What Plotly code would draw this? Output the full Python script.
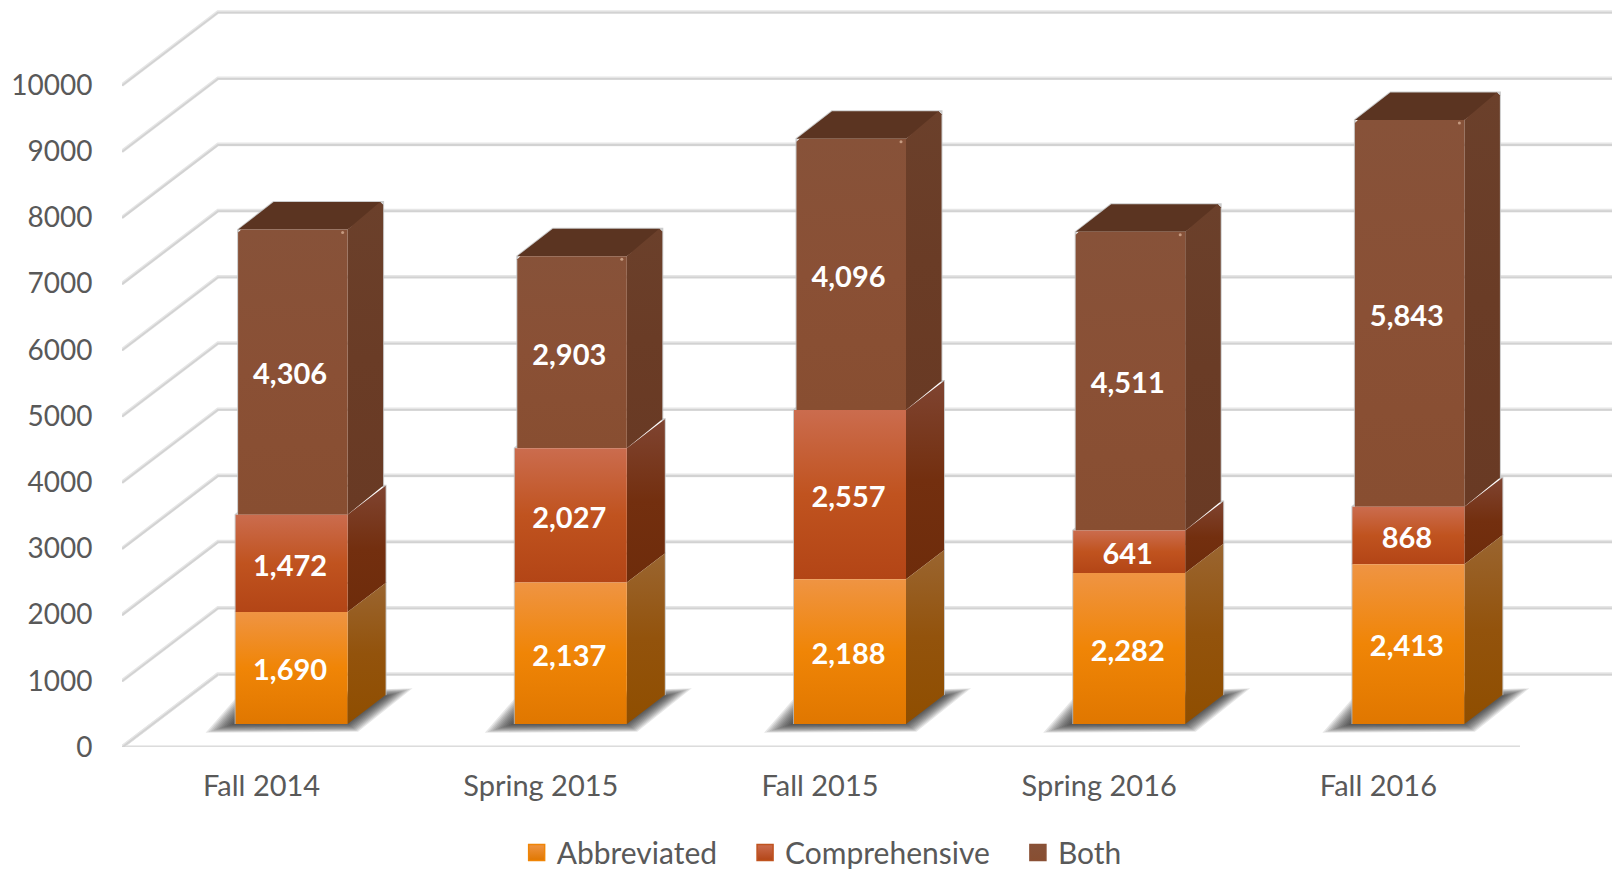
import plotly.graph_objects as go

# ## data
semesters = ["Fall 2014", "Spring 2015", "Fall 2015", "Spring 2016", "Fall 2016"]
abbreviated = [1690, 2137, 2188, 2282, 2413]
comprehensive = [1472, 2027, 2557, 641, 868]
both = [4306, 2903, 4096, 4511, 5843]
y_ticks = [0, 1000, 2000, 3000, 4000, 5000, 6000, 7000, 8000, 9000, 10000]

# ## scale of the axes (pixels per axis unit)
W, H = 1612, 870
LEFT, BOTTOM = 122, 123
X_SCALE = 279.2
Y_SCALE = 0.0662


def dx(px):
    return px / X_SCALE


def dy(px):
    return px / Y_SCALE


# ## the fake 3d look, all in pixels
WALL_X, WALL_Y = dx(96), dy(73)
BAR_SHIFT_X, BAR_LIFT = dx(30), dy(23)
BAR_W = dx(112)
SIDE_X, SIDE_Y = dx(38), dy(29)
BOTH_INSET = dx(2.5)
BOTH_SIDE_Y = dy(27.5)
CUT_X, CUT_Y = dx(3), dy(3)

GREY = "#595959"
FONT = "Lato"

# bottom of the face first, then top
styles = {
    "Abbreviated": dict(front=["#E07700", "#F08506", "#EF9443"], side=["#8F4E00", "#93530C", "#9A6530"]),
    "Comprehensive": dict(front=["#B34516", "#C0531F", "#CB6C4E"], side=["#6E2C0B", "#732F0F", "#7F4431"]),
    "Both": dict(front=["#884E31", "#8A5035", "#875239"], side=["#693A24", "#6A3C26", "#6B402B"]),
}


def scale3(colors):
    return [[0, colors[0]], [0.5, colors[1]], [1, colors[2]]]


fig = go.Figure()


def line(xs, ys, color, width):
    fig.add_trace(go.Scatter(x=xs, y=ys, mode="lines", line=dict(color=color, width=width),
                             showlegend=False, hoverinfo="skip", cliponaxis=False))


def face(xs, ys, colors=None, solid=None, opacity=1):
    kw = dict(fillcolor=solid) if solid else dict(fillgradient=dict(type="vertical", colorscale=scale3(colors)))
    fig.add_trace(go.Scatter(x=xs + xs[:1], y=ys + ys[:1], mode="lines", fill="toself", line=dict(width=0),
                             opacity=opacity, showlegend=False, hoverinfo="skip", **kw))


# ## walls and gridlines
x_right = (W - LEFT) / X_SCALE
floor_end = dx(1398)
for v in y_ticks:
    gx = [0, WALL_X, x_right]
    gy = [v, v + WALL_Y, v + WALL_Y]
    line(gx, gy, "#E6E6E6", 3.6)
    line(gx, [g - dy(0.6) for g in gy], "#D2D2D2", 1.8)
line([WALL_X, 0, floor_end], [WALL_Y, 0, 0], "#E6E6E6", 3.6)
line([WALL_X, 0, floor_end], [WALL_Y - dy(0.5), -dy(0.5), -dy(0.5)], "#D2D2D2", 1.8)

# ## shadows on the floor, stacked thin layers for the blur
shadow_px = [(-4, -1), (14, 22), (151, 28), (112, 0)]
spread = [26, 23.4, 20.8, 18.2, 15.6, 13, 10.4, 7.8, 5.2, 2.6, 0]
for i in range(len(semesters)):
    x0 = i + 0.5 + BAR_SHIFT_X - BAR_W / 2
    for e in spread:
        pts = []
        for (px, py), sx, sy in zip(shadow_px, [-1, -0.4, 1, 0.4], [-1, 1, 1, -1]):
            pts.append((px + sx * e, py + sy * e * 0.3))
        face([x0 + dx(p[0]) for p in pts], [BAR_LIFT + dy(p[1]) for p in pts], solid="#111111", opacity=0.1)

# ## bars, drawn top segment first so lower side faces sit on top
series = [("Both", both, BOTH_INSET), ("Comprehensive", comprehensive, 0), ("Abbreviated", abbreviated, 0)]
label_x, label_y, label_text = [], [], []
for i in range(len(semesters)):
    left = i + 0.5 + BAR_SHIFT_X - BAR_W / 2
    right = left + BAR_W
    bases = [abbreviated[i] + comprehensive[i], abbreviated[i], 0]

    # faint outline round the blocks goes under every face of the bar, open at the floor
    for (name, vals, inset), base in zip(series, bases):
        y0 = BAR_LIFT + base
        y1 = y0 + vals[i]
        lf = left + inset
        sx = SIDE_X - inset
        sy = BOTH_SIDE_Y if name == "Both" else SIDE_Y
        line([lf, lf, lf + sx, right + sx, right + sx],
             [y0, y1, y1 + sy, y1 + sy, y0 + sy], "rgba(190,190,190,0.8)", 2)

    for (name, vals, inset), base in zip(series, bases):
        y0 = BAR_LIFT + base
        y1 = y0 + vals[i]
        lf = left + inset
        sx = SIDE_X - inset
        sy = BOTH_SIDE_Y if name == "Both" else SIDE_Y
        if name == "Both":
            face([lf, lf + sx - CUT_X, lf + sx, right + sx - CUT_X, right + sx, right],
                 [y1, y1 + sy - CUT_Y, y1 + sy, y1 + sy, y1 + sy - CUT_Y, y1], solid="#5B3421")
            face([right, right + sx, right + sx, right + sx - CUT_X, right],
                 [y0, y0 + SIDE_Y, y1 + sy - CUT_Y, y1 + sy, y1], colors=styles[name]["side"])
            face([lf, right, right, lf + CUT_X, lf],
                 [y0, y0, y1, y1, y1 - CUT_Y], colors=styles[name]["front"])
            fig.add_trace(go.Scatter(x=[right - dx(5)], y=[y1 - dy(3)], mode="markers",
                                     marker=dict(size=3, color="#C59A80"), showlegend=False, hoverinfo="skip"))
        else:
            face([right, right + sx, right + sx, right], [y0, y0 + sy, y1 + sy, y1], colors=styles[name]["side"])
            face([lf, right, right, lf], [y0, y0, y1, y1], colors=styles[name]["front"])
        label_x.append((left + right) / 2 - dx(1.5))
        label_y.append((y0 + y1) / 2 - dy(5))
        label_text.append(f"{vals[i]:,}")

fig.add_trace(go.Scatter(x=label_x, y=label_y, text=label_text, mode="text", showlegend=False, hoverinfo="skip",
                         textfont=dict(family=FONT, size=29, color="white", weight=700)))

# ## legend only traces, nbsp padding widens the gap between entries
pad = "\u00a0" * 3
for name, shown in [("Abbreviated", "Abbreviated" + pad), ("Comprehensive", "Comprehensive" + pad), ("Both", "Both")]:
    c = styles[name]["front"]
    fig.add_trace(go.Scatter(x=[None], y=[None], mode="markers", name=shown,
                             marker=dict(symbol="square", size=16, color=c[2],
                                         line=dict(width=1.5, color=c[1]),
                                         gradient=dict(type="vertical", color=c[0]))))

fig.update_layout(
    width=W, height=H,
    margin=dict(l=LEFT, r=0, t=0, b=BOTTOM),
    paper_bgcolor="white", plot_bgcolor="white",
    font=dict(family=FONT, size=28, color=GREY),
    legend=dict(orientation="h", x=0.3205, xref="container", xanchor="left", y=0.02, yref="container", yanchor="middle",
                bgcolor="rgba(0,0,0,0)", font=dict(family=FONT, size=30, color=GREY)),
)
fig.update_xaxes(range=[0, x_right], tickmode="array", tickvals=[i + 0.5 for i in range(len(semesters))],
                 ticktext=semesters, showgrid=False, zeroline=False, showline=False,
                 ticks="outside", ticklen=13, tickcolor="rgba(0,0,0,0)", tickfont=dict(size=29))
fig.update_yaxes(range=[0, (H - BOTTOM) / Y_SCALE], tickmode="array", tickvals=y_ticks,
                 ticktext=[str(v) for v in y_ticks], showgrid=False,
                 zeroline=False, showline=False, ticks="outside", ticklen=23, tickcolor="rgba(0,0,0,0)")

fig.write_html("out.html", config=dict(displayModeBar=False), post_script="document.body.style.margin='0';")
